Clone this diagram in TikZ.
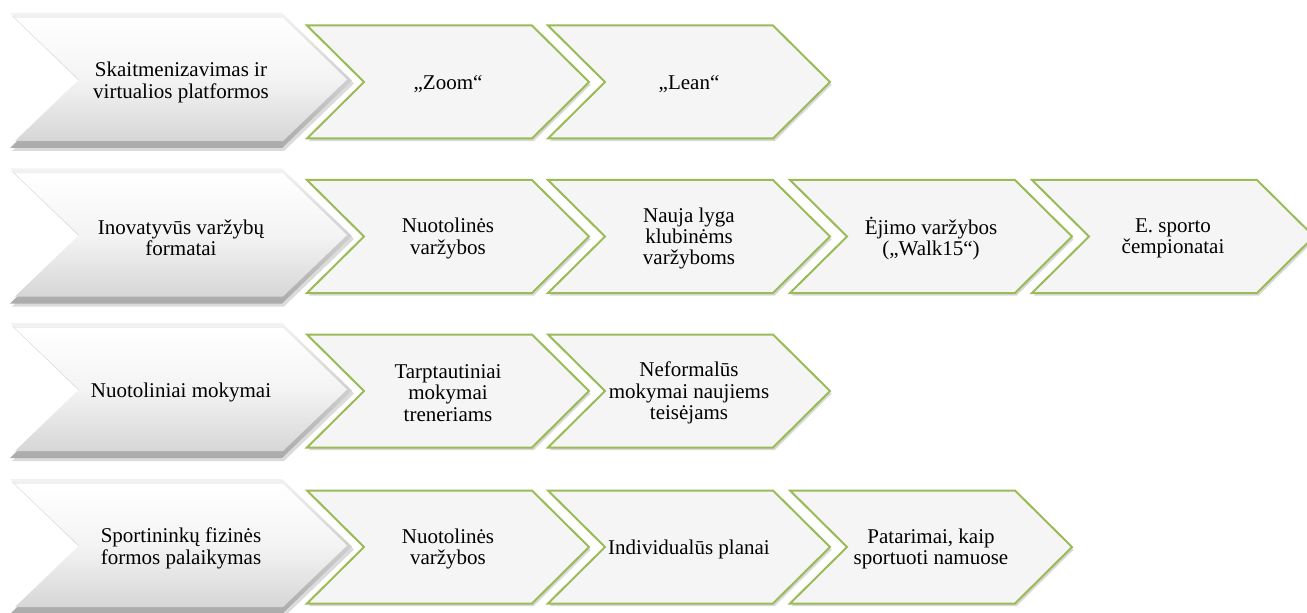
\documentclass[tikz,border=0pt]{standalone}
\usepackage{fontspec}
\setmainfont{Liberation Serif}
\usetikzlibrary{shadows}
\definecolor{chgreen}{HTML}{9BBB59}
\definecolor{chfill}{HTML}{F5F5F5}
\tikzset{
  greenchev/.style={draw=chgreen, line width=1.5pt, fill=chfill, line join=miter,
    drop shadow={shadow xshift=1.2pt, shadow yshift=-2pt, opacity=0.3}},
  grayshadow/.style={fill=gray!70, opacity=0.4},
  grayouter/.style={top color=gray!10, bottom color=gray!66},
  grayinner/.style={top color=white, bottom color=gray!32, middle color=gray!9},
  txt/.style={align=center, font=\fontsize{15.75}{16}\selectfont, inner sep=0pt, yshift=-1.5pt}
}
% #1 style, #2 left x, #3 centre y, #4 width, #5 height, #6 point depth
\newcommand\mychev[6]{%
  \path[#1] (#2,#3-#5/2) -- (#2+#4-#6,#3-#5/2) -- (#2+#4,#3) -- (#2+#4-#6,#3+#5/2)
    -- (#2,#3+#5/2) -- (#2+#6,#3) -- cycle;}
\newcommand\graychev[1]{%
  \mychev{grayshadow}{12}{#1+3}{342}{135}{70}%
  \mychev{grayouter}{10}{#1}{342}{135}{70}%
  \mychev{grayinner}{15}{#1-1}{332}{123}{64}}
\newcommand\greenchev[2]{\mychev{greenchev}{#1}{#2}{282}{113}{57}}
\begin{document}
\begin{tikzpicture}[x=0.75pt,y=-0.75pt]
\useasboundingbox (0,0) rectangle (1307,613);
\clip (0,0) rectangle (1307,613);
\fill[white] (0,0) rectangle (1307,613);

% Row 1
\graychev{80.5}
\node[txt] (g1) at (181,80.5) {Skaitmenizavimas ir\\virtualios platformos};
\greenchev{307}{82}
\node[txt] (a1) at (448,82) {„Zoom“};
\greenchev{548}{82}
\node[txt] (a2) at (689,82) {„Lean“};

% Row 2
\graychev{236}
\node[txt] (g2) at (181,236) {Inovatyvūs varžybų\\formatai};
\greenchev{307}{236.5}
\node[txt] (b1) at (448,236.5) {Nuotolinės\\varžybos};
\greenchev{548}{236.5}
\node[txt] (b2) at (689,236.5) {Nauja lyga\\klubinėms\\varžyboms};
\greenchev{790}{236.5}
\node[txt] (b3) at (931,236.5) {Ėjimo varžybos\\(„Walk15“)};
\greenchev{1032}{236.5}
\node[txt] (b4) at (1173,236.5) {E. sporto\\čempionatai};

% Row 3
\graychev{390.5}
\node[txt] (g3) at (181,390.5) {Nuotoliniai mokymai};
\greenchev{307}{391}
\node[txt] (c1) at (448,391) {Tarptautiniai\\mokymai\\treneriams};
\greenchev{548}{391}
\node[txt] (c2) at (689,391) {Neformalūs\\mokymai naujiems\\teisėjams};

% Row 4
\graychev{546.5}
\node[txt] (g4) at (181,546.5) {Sportininkų fizinės\\formos palaikymas};
\greenchev{307}{547}
\node[txt] (d1) at (448,547) {Nuotolinės\\varžybos};
\greenchev{548}{547}
\node[txt] (d2) at (689,547) {Individualūs planai};
\greenchev{790}{547}
\node[txt] (d3) at (931,547) {Patarimai, kaip\\sportuoti namuose};
\end{tikzpicture}
\end{document}
